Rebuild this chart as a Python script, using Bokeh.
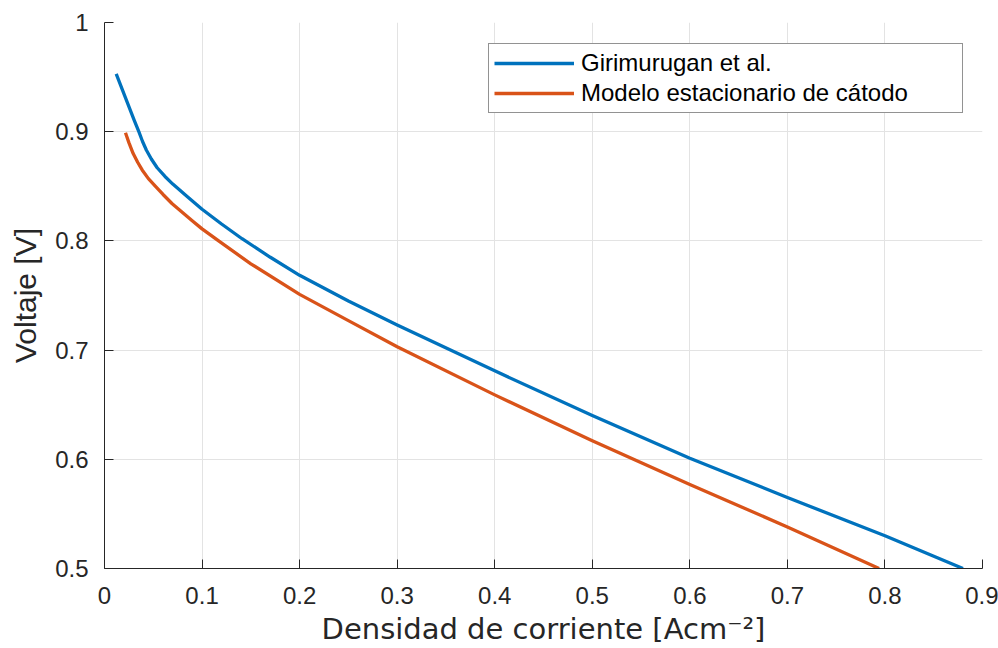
from bokeh.plotting import figure
from bokeh.models import Range1d, FixedTicker, Legend, LegendItem
from bokeh.embed import file_html
from bokeh.resources import INLINE

# ---- data ----
x_girimurugan = [0.012, 0.0307, 0.0352, 0.039, 0.043, 0.048, 0.054, 0.062, 0.07, 0.085,
                 0.1, 0.12, 0.141, 0.17, 0.2, 0.25, 0.3, 0.4, 0.5, 0.6, 0.7, 0.8, 0.88]
y_girimurugan = [0.953, 0.910, 0.900, 0.891, 0.883, 0.875, 0.867, 0.859, 0.852, 0.8405,
                 0.829, 0.8155, 0.802, 0.785, 0.7685, 0.745, 0.723, 0.681, 0.640, 0.601,
                 0.565, 0.530, 0.500]

x_modelo = [0.0215, 0.025, 0.0294, 0.034, 0.0386, 0.045, 0.0523, 0.06, 0.0694, 0.0899,
            0.1, 0.117, 0.15, 0.2, 0.25, 0.3, 0.4, 0.5, 0.6, 0.7, 0.794]
y_modelo = [0.899, 0.890, 0.880, 0.872, 0.865, 0.857, 0.850, 0.8425, 0.834, 0.8185,
            0.811, 0.800, 0.779, 0.751, 0.727, 0.703, 0.659, 0.617, 0.577, 0.538, 0.500]

series_names = ["Girimurugan et al.", "Modelo estacionario de cátodo"]

x_ticks = [0, 0.1, 0.2, 0.3, 0.4, 0.5, 0.6, 0.7, 0.8, 0.9]
x_tick_labels = ["0", "0.1", "0.2", "0.3", "0.4", "0.5", "0.6", "0.7", "0.8", "0.9"]
y_ticks = [0.5, 0.6, 0.7, 0.8, 0.9, 1.0]
y_tick_labels = ["0.5", "0.6", "0.7", "0.8", "0.9", "1"]

x_label = "Densidad de corriente [Acm⁻²]"
y_label = "Voltaje [V]"

# ---- figure ----
AX = "#262626"
GRID = "#e3e3e3"
BLUE = "#0072BD"
ORANGE = "#D95319"

p = figure(width=998, height=648, output_backend="svg", toolbar_location=None,
           x_range=Range1d(0, 0.9), y_range=Range1d(0.5, 1.0),
           min_border_left=104, min_border_right=16, min_border_top=22, min_border_bottom=79)
p.outline_line_color = None
p.background_fill_color = "white"
p.border_fill_color = "white"

r1 = p.line(x_girimurugan, y_girimurugan, line_color=BLUE, line_width=3.3,
            line_join="round", line_cap="butt")
r2 = p.line(x_modelo, y_modelo, line_color=ORANGE, line_width=3.3,
            line_join="round", line_cap="butt")

for ax in (p.xaxis[0], p.yaxis[0]):
    ax.axis_line_color = AX
    ax.axis_line_width = 1
    ax.major_tick_line_color = AX
    ax.major_tick_in = 9
    ax.major_tick_out = 0
    ax.minor_tick_line_color = None
    ax.major_label_text_font = "Liberation Sans"
    ax.major_label_text_font_size = "24px"
    ax.major_label_text_color = AX
    ax.axis_label_text_color = AX
    ax.axis_label_text_font_style = "normal"

p.xaxis[0].ticker = FixedTicker(ticks=x_ticks)
p.xaxis[0].major_label_overrides = dict(zip(x_ticks, x_tick_labels))
p.yaxis[0].ticker = FixedTicker(ticks=y_ticks)
p.yaxis[0].major_label_overrides = dict(zip(y_ticks, y_tick_labels))

p.xaxis[0].major_label_standoff = 18
p.yaxis[0].major_label_standoff = 16

p.xaxis[0].axis_label = x_label
p.xaxis[0].axis_label_text_font = "DejaVu Sans"
p.xaxis[0].axis_label_text_font_size = "29px"
p.xaxis[0].axis_label_standoff = 5

p.yaxis[0].axis_label = y_label
p.yaxis[0].axis_label_text_font = "Liberation Sans"
p.yaxis[0].axis_label_text_font_size = "30px"
p.yaxis[0].axis_label_standoff = 10

p.xgrid[0].grid_line_color = GRID
p.ygrid[0].grid_line_color = GRID
p.xgrid[0].grid_line_width = 1
p.ygrid[0].grid_line_width = 1

legend = Legend(items=[LegendItem(label=series_names[0], renderers=[r1]),
                       LegendItem(label=series_names[1], renderers=[r2])],
                location=(384, 455))
legend.border_line_color = "#262626"
legend.border_line_width = 1
legend.background_fill_color = "white"
legend.background_fill_alpha = 1
legend.label_text_font = "Liberation Sans"
legend.label_text_font_size = "24px"
legend.label_text_color = "black"
legend.glyph_width = 80
legend.glyph_height = 26
legend.label_height = 26
legend.label_width = 376
legend.label_standoff = 7
legend.padding = 5
legend.spacing = 2
legend.margin = 0
p.add_layout(legend, "center")

open("out.html", "w").write(file_html(p, INLINE))
